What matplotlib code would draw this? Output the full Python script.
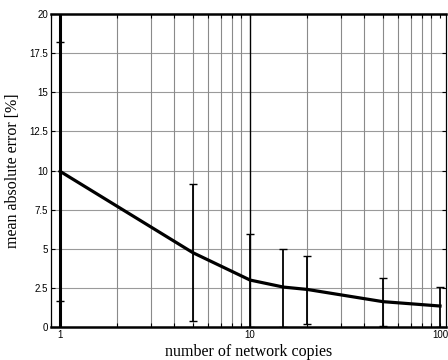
import numpy as np
import matplotlib.pyplot as plt

# values
copies = [1, 5, 10, 15, 20, 50, 100]
mean_err = [9.95, 4.75, 3.0, 2.55, 2.4, 1.62, 1.34]
err_low = [1.68, 0.4, 0.0, 0.0, 0.17, 0.08, 0.0]
err_high = [18.2, 9.14, 5.94, 4.98, 4.54, 3.15, 2.56]
y_ticks = [0, 2.5, 5, 7.5, 10, 12.5, 15, 17.5, 20]
y_tick_labels = ["0", "2.5", "5", "7.5", "10", "12.5", "15", "17.5", "20"]
x_ticks = [1, 10, 100]
x_tick_labels = ["1", "10", "100"]

fig = plt.figure(figsize=(4.48, 3.6), dpi=100)
ax = fig.add_axes([0.114, 0.0917, 0.8815, 0.8693])

ax.set_xscale('log')
ax.set_xlim(0.897, 107.5)
ax.set_ylim(0, 20)

# grid: gray horizontal and minor vertical, black major vertical
for yv in y_ticks[1:-1]:
    ax.axhline(yv, color='#9a9a9a', lw=0.8, zorder=1)
minor_x = [m * d for d in (1, 10) for m in range(2, 10)]
for xv in minor_x:
    ax.axvline(xv, color='#8a8a8a', lw=0.8, zorder=1)
ax.axvline(1, color='black', lw=2.2, zorder=2)
ax.axvline(10, color='black', lw=1.0, zorder=2)

# error bars
mean = np.array(mean_err)
yerr = [mean - np.array(err_low), np.array(err_high) - mean]
ax.errorbar(copies, mean_err, yerr=yerr, fmt='none', ecolor='black',
            elinewidth=1.3, capsize=3, capthick=1.0, zorder=3, clip_on=True)
ax.plot(copies, mean_err, color='black', lw=2.3, zorder=4)

ax.set_xticks(x_ticks)
ax.set_xticklabels(x_tick_labels, fontsize=7, family='Liberation Sans')
ax.xaxis.set_minor_formatter(plt.NullFormatter())
ax.set_yticks(y_ticks)
ax.set_yticklabels(y_tick_labels, fontsize=7, family='Liberation Sans')
ax.tick_params(which='both', direction='in', length=3, width=0.8,
               top=True, right=True, pad=2)

for side in ['top', 'bottom']:
    ax.spines[side].set_linewidth(1.8)
ax.spines['left'].set_linewidth(0.9)
ax.spines['right'].set_linewidth(0.9)

ax.set_xlabel('number of network copies', fontsize=11.5,
              family='Liberation Serif', labelpad=3)
ax.set_ylabel('mean absolute error [%]', fontsize=11.5,
              family='Liberation Serif', labelpad=6)

fig.savefig('out.png', dpi=100)
